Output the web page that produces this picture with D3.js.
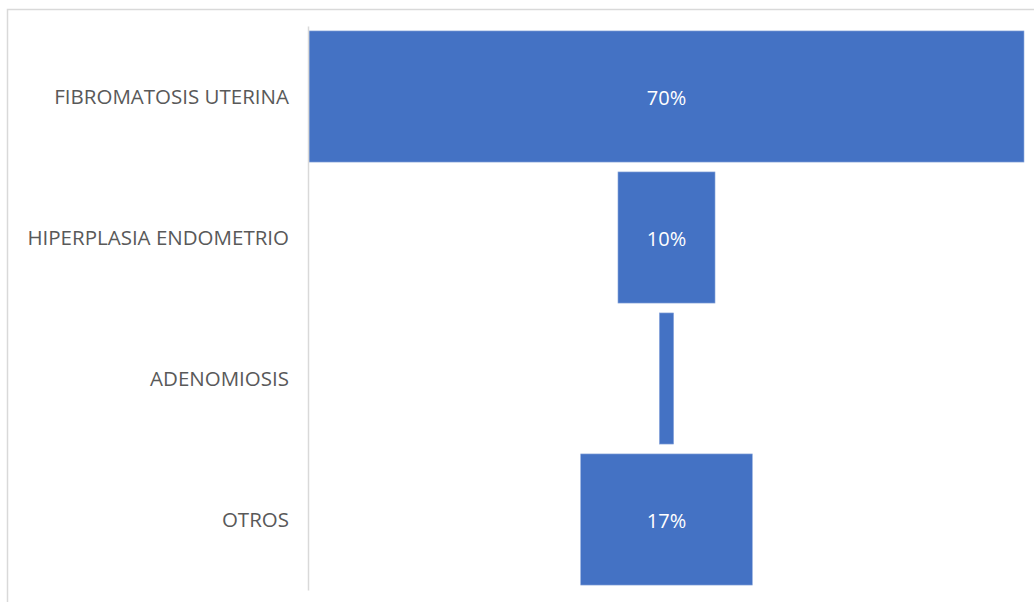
<!DOCTYPE html>
<html><head><meta charset="utf-8">
<script src="https://cdn.jsdelivr.net/npm/d3@7"></script>
<style>body{margin:0;background:#fff}svg{display:block}</style>
</head><body>
<script>
const categories = ["FIBROMATOSIS UTERINA", "HIPERPLASIA ENDOMETRIO", "ADENOMIOSIS", "OTROS"];
const values = [70, 9.5, 1.4, 16.8];

const W = 1034, H = 602;
const svg = d3.select("body").append("svg").attr("width", W).attr("height", H);
svg.append("rect").attr("x", 7.5).attr("y", 9.5).attr("width", 1040).attr("height", 600)
  .attr("fill", "#fff").attr("stroke", "#d9d9d9").attr("stroke-width", 1.5);

const plotL = 309, plotR = 1024;
const cx = (plotL + plotR) / 2;
const y = d3.scaleBand().domain(categories).range([26, 590]).paddingInner(0.07).paddingOuter(0.035);
const x = d3.scaleLinear().domain([0, d3.max(values)]).range([0, plotR - plotL]);

const data = categories.map((c, i) => ({c, v: values[i]}));
svg.selectAll("rect.bar").data(data).join("rect").attr("class", "bar")
  .attr("x", d => cx - x(d.v) / 2).attr("width", d => x(d.v))
  .attr("y", d => y(d.c)).attr("height", y.bandwidth())
  .attr("fill", "#4472c4").attr("stroke", "#8faadc").attr("stroke-width", 0.6);

const font = "'Open Sans', 'Noto Sans', sans-serif";
const lbl = svg.selectAll("text.val").data(data).join("text").attr("class", "val")
  .attr("x", cx).attr("y", d => y(d.c) + y.bandwidth() / 2 + 1)
  .attr("text-anchor", "middle").attr("dominant-baseline", "central")
  .attr("fill", "#fff").style("font-family", font).style("font-size", "20px")
  .text(d => Math.round(d.v) + "%");
lbl.each(function(d){ if (this.getComputedTextLength() > x(d.v)) d3.select(this).remove(); });

// category axis
const axis = svg.append("g").attr("transform", `translate(${plotL - 1},0)`)
  .call(d3.axisLeft(y).tickSize(0).tickPadding(19));
axis.select(".domain").attr("stroke", "#d9d9d9").attr("stroke-width", 1.5);
axis.selectAll("text").attr("fill", "#595959").style("font-family", font).style("font-size", "20.5px")
  .attr("dy", "0.36em");
</script>
</body></html>
